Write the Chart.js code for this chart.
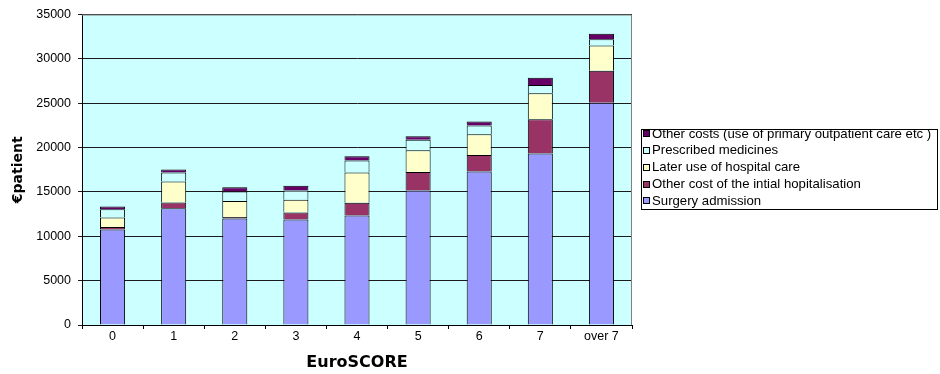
<!DOCTYPE html>
<html>
<head>
<meta charset="utf-8">
<script src="https://cdn.jsdelivr.net/npm/chart.js@4/dist/chart.umd.min.js"></script>
<style>
  body { margin: 0; background: #fff; }
  #wrap { width: 940px; height: 374px; position: relative; }
</style>
</head>
<body>
<div id="wrap"><canvas id="costChart"></canvas></div>
<script>
// EuroSCORE groups on the x axis
const scores = ['0', '1', '2', '3', '4', '5', '6', '7', 'over 7'];

// cost components per patient (EUR), bottom of stack first
const surgeryAdmission = [10770, 13170, 12000, 11900, 12350, 15160, 17300, 19320, 25060];
const initialOther     = [290, 640, 180, 790, 1420, 2090, 1870, 3860, 3600];
const laterHospital    = [1060, 2360, 1800, 1420, 3420, 2440, 2330, 2930, 2850];
const medicines        = [935, 1010, 1060, 1060, 1350, 1200, 980, 930, 710];
const otherCosts       = [300, 340, 480, 520, 480, 400, 450, 830, 610];

const yTicks = [0, 5000, 10000, 15000, 20000, 25000, 30000, 35000];

const ARIAL = '"Liberation Sans", Arial, sans-serif';
const WIDE_BOLD = '"DejaVu Sans", Verdana, sans-serif';

Chart.defaults.font.family = ARIAL;
Chart.defaults.color = '#000';

const makeSet = (label, data, color) => ({
  label: label,
  data: data,
  backgroundColor: color,
  borderColor: '#000',
  borderWidth: 1,
  barPercentage: 0.41,
  categoryPercentage: 1.0
});

// cyan plot background, grey frame on top/right, boxed legend on the right
const plotFrame = {
  id: 'plotFrame',
  beforeDraw(chart) {
    const { ctx, chartArea: a } = chart;
    ctx.save();
    ctx.fillStyle = '#CCFFFF';
    ctx.fillRect(a.left, a.top, a.right - a.left, a.bottom - a.top);
    ctx.restore();
  },
  beforeDatasetsDraw(chart) {
    const { ctx, chartArea: a } = chart;
    ctx.save();
    ctx.strokeStyle = '#808080';
    ctx.lineWidth = 1;
    ctx.beginPath();
    ctx.moveTo(a.left, a.top + 0.5);
    ctx.lineTo(a.right - 0.5, a.top + 0.5);
    ctx.lineTo(a.right - 0.5, a.bottom);
    ctx.stroke();
    ctx.restore();
  },
  afterDraw(chart, args, opts) {
    const { ctx } = chart;
    const sets = chart.data.datasets.slice().reverse();
    const x0 = opts.left, y0 = opts.top;
    ctx.save();
    ctx.lineWidth = 1;
    ctx.strokeStyle = '#000';
    ctx.strokeRect(x0 + 0.5, y0 + 0.5, opts.width, opts.height);
    ctx.font = opts.fontSize + 'px ' + ARIAL;
    ctx.textBaseline = 'middle';
    ctx.textAlign = 'left';
    sets.forEach((ds, i) => {
      const cy = y0 + opts.firstRow + i * opts.rowGap;
      ctx.fillStyle = ds.backgroundColor;
      ctx.fillRect(x0 + 2, Math.round(cy - 3.5), 7, 7);
      ctx.strokeRect(x0 + 2.5, Math.round(cy - 3.5) + 0.5, 6, 6);
      ctx.fillStyle = '#000';
      ctx.fillText(ds.label, x0 + 11, cy + 0.5);
    });
    ctx.restore();
  }
};

new Chart(document.getElementById('costChart'), {
  type: 'bar',
  data: {
    labels: scores,
    datasets: [
      makeSet('Surgery admission', surgeryAdmission, '#9999FF'),
      makeSet('Other cost of the intial hopitalisation', initialOther, '#993366'),
      makeSet('Later use of hospital care', laterHospital, '#FFFFCC'),
      makeSet('Prescribed medicines', medicines, '#CCFFFF'),
      makeSet('Other costs (use of primary outpatient care etc )', otherCosts, '#660066')
    ]
  },
  options: {
    responsive: true,
    maintainAspectRatio: false,
    animation: false,
    layout: { padding: { left: 4, right: 308, top: 14, bottom: 0 } },
    plugins: {
      tooltip: { enabled: false },
      legend: { display: false },
      plotFrame: {
        left: 641, top: 129, width: 296, height: 80,
        firstRow: 4.5, rowGap: 16.85, fontSize: 13.2
      }
    },
    scales: {
      x: {
        stacked: true,
        afterFit(scale) { scale.height = 374 - 325; },
        grid: {
          offset: true,
          drawOnChartArea: false,
          drawTicks: true,
          tickLength: 4,
          color: '#000'
        },
        border: { color: '#000' },
        ticks: { padding: 0, font: { size: 12.5 }, color: '#000' },
        title: {
          display: true,
          text: 'EuroSCORE',
          font: { family: WIDE_BOLD, size: 16, weight: 'bold' },
          color: '#000',
          padding: { top: 0, bottom: 2 }
        }
      },
      y: {
        stacked: true,
        min: 0,
        max: 35000,
        afterFit(scale) { scale.width = 82 - 4; },
        afterBuildTicks(scale) { scale.ticks = yTicks.map(v => ({ value: v })); },
        grid: {
          color: '#1a1a1a',
          tickLength: 4
        },
        border: { color: '#000' },
        ticks: {
          padding: 7,
          font: { size: 12.5 },
          color: '#000',
          callback: v => String(v)
        },
        title: {
          display: true,
          text: '€patient',
          font: { family: WIDE_BOLD, size: 14, weight: 'bold' },
          color: '#000',
          padding: { top: 6, bottom: 0 }
        }
      }
    }
  },
  plugins: [plotFrame]
});
</script>
</body>
</html>
